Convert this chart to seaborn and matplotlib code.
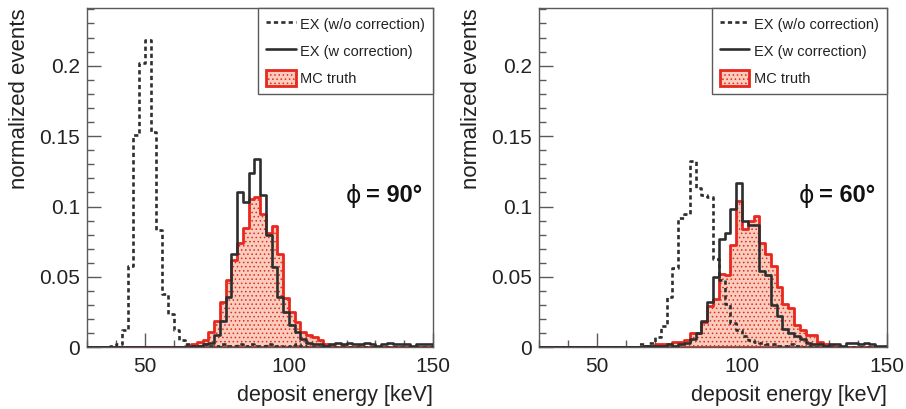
import numpy as np
import pandas as pd
import matplotlib
matplotlib.use("Agg")
import matplotlib.pyplot as plt
from matplotlib.lines import Line2D
from matplotlib.patches import Patch
from matplotlib.ticker import MultipleLocator
import seaborn as sns

# ---------------- data (normalized events per 2 keV bin) ----------------
energy_centers = list(range(31, 153, 2))      # bin centres [keV]
bin_edges = list(range(30, 154, 2))           # bin edges  [keV]

left_ex_raw = [0, 0, 0, 0, 0.001, 0.002, 0.012, 0.058, 0.151, 0.202,
               0.218, 0.153, 0.083, 0.038, 0.024, 0.012, 0.005, 0.002, 0.001, 0.001,
               0.002, 0.001, 0.001, 0.002, 0.001, 0.001, 0.002, 0.001, 0.002, 0.001,
               0.001, 0.002, 0.001, 0.001, 0, 0.001, 0.002, 0.001, 0, 0,
               0, 0, 0, 0, 0, 0, 0, 0, 0, 0,
               0, 0, 0, 0, 0, 0, 0, 0, 0, 0, 0]
left_ex_corr = [0, 0, 0, 0, 0, 0, 0, 0, 0, 0,
                0, 0, 0, 0, 0, 0, 0, 0, 0.001, 0.001,
                0.002, 0.003, 0.009, 0.019, 0.036, 0.066, 0.110, 0.103, 0.124, 0.134,
                0.108, 0.080, 0.057, 0.036, 0.025, 0.016, 0.011, 0.006, 0.003, 0.002,
                0.002, 0.001, 0.002, 0.003, 0.002, 0.003, 0.002, 0.002, 0.003, 0.002,
                0.001, 0.002, 0.003, 0.002, 0.002, 0.002, 0.001, 0.002, 0.002, 0.002, 0]
left_mc = [0, 0, 0, 0, 0, 0, 0, 0, 0, 0,
           0, 0, 0, 0, 0, 0, 0, 0.001, 0.002, 0.004,
           0.005, 0.011, 0.019, 0.032, 0.048, 0.062, 0.074, 0.085, 0.105, 0.107,
           0.095, 0.081, 0.086, 0.066, 0.035, 0.025, 0.018, 0.011, 0.009, 0.007,
           0.005, 0.002, 0.001, 0, 0.001, 0, 0, 0.001, 0, 0,
           0, 0, 0, 0, 0, 0, 0, 0, 0, 0, 0]

right_ex_raw = [0, 0, 0, 0, 0, 0, 0, 0, 0,
                0, 0, 0, 0, 0, 0, 0, 0, 0.002, 0.001,
                0.003, 0.007, 0.015, 0.036, 0.056, 0.092, 0.095, 0.132, 0.113, 0.108,
                0.107, 0.063, 0.048, 0.031, 0.017, 0.012, 0.008, 0.005, 0.004, 0.003,
                0.002, 0.002, 0.001, 0.001, 0.002, 0.001, 0, 0.001, 0, 0,
                0, 0, 0, 0, 0, 0, 0, 0, 0, 0, 0, 0]
right_ex_corr = [0, 0, 0, 0, 0, 0, 0, 0, 0,
                 0, 0, 0, 0, 0, 0, 0, 0, 0, 0.001,
                 0.001, 0.001, 0.001, 0.002, 0.001, 0.002, 0.003, 0.006, 0.010, 0.019,
                 0.032, 0.050, 0.077, 0.081, 0.098, 0.117, 0.090, 0.087, 0.087, 0.054,
                 0.051, 0.030, 0.022, 0.013, 0.010, 0.008, 0.006, 0.003, 0.002, 0.002,
                 0.001, 0.002, 0.002, 0.001, 0.003, 0.003, 0.002, 0.003, 0.002, 0.001, 0.001, 0]
right_mc = [0, 0, 0, 0, 0, 0, 0, 0, 0,
            0, 0, 0, 0, 0, 0, 0, 0, 0, 0.001,
            0.001, 0.002, 0.002, 0.002, 0.004, 0.004, 0.005, 0.010, 0.010, 0.018,
            0.029, 0.034, 0.052, 0.051, 0.073, 0.104, 0.084, 0.090, 0.093, 0.074,
            0.066, 0.058, 0.043, 0.031, 0.028, 0.016, 0.012, 0.009, 0.009, 0.004,
            0.002, 0.001, 0, 0, 0, 0, 0, 0, 0, 0, 0, 0]

series_labels = ["EX (w/o correction)", "EX (w correction)", "MC truth"]
angle_labels = ["90", "60"]
y_ticks = [0, 0.05, 0.1, 0.15, 0.2]
y_tick_labels = ["0", "0.05", "0.1", "0.15", "0.2"]
x_ticks = [50, 100, 150]
x_tick_labels = ["50", "100", "150"]

# ---------------- style ----------------
sns.set_style("white")
FONT = ["Liberation Sans", "DejaVu Sans"]
plt.rcParams["font.family"] = FONT
plt.rcParams["hatch.linewidth"] = 0.6

EX_COLOR = "#2e2e2e"
MC_EDGE = "#e8281e"
MC_FACE = "#f9cdbd"
FRAME = "#5a5a5a"

fig = plt.figure(figsize=(9.06, 4.09), dpi=100)
ax_l = fig.add_axes([87.3 / 906, (409 - 347.3) / 409, 345.6 / 906, 339.3 / 409])
ax_r = fig.add_axes([539.3 / 906, (409 - 347.3) / 409, 347.4 / 906, 339.3 / 409])


def draw_panel(ax, raw, corr, mc, angle):
    df = pd.DataFrame({"energy": energy_centers, "raw": raw, "corr": corr, "mc": mc})
    sns.histplot(data=df, x="energy", weights="mc", bins=bin_edges, element="step",
                 fill=True, facecolor=MC_FACE, edgecolor=MC_EDGE, linewidth=2.0,
                 ax=ax, zorder=1)
    ax.collections[-1].set_hatch("....")
    sns.histplot(data=df, x="energy", weights="raw", bins=bin_edges, element="step",
                 fill=False, color=EX_COLOR, linewidth=1.9, linestyle=(0, (1.6, 1.2)),
                 ax=ax, zorder=2)
    sns.histplot(data=df, x="energy", weights="corr", bins=bin_edges, element="step",
                 fill=False, color=EX_COLOR, linewidth=1.9, ax=ax, zorder=3)

    ax.set_xlim(30, 150)
    ax.set_ylim(0, 0.241)
    ax.set_xlabel("")
    ax.set_ylabel("")
    ax.set_yticks(y_ticks)
    ax.set_yticklabels(y_tick_labels)
    ax.set_xticks(x_ticks)
    ax.set_xticklabels(x_tick_labels)
    ax.xaxis.set_minor_locator(MultipleLocator(10))
    ax.yaxis.set_minor_locator(MultipleLocator(0.01))
    ax.tick_params(which="both", direction="in", colors=FRAME, labelcolor="#222222",
                   labelsize=15, top=False, right=False, left=True, bottom=True)
    ax.tick_params(which="major", length=10, width=1.0)
    ax.tick_params(which="minor", length=5, width=1.0)
    ax.tick_params(axis="y", which="major", pad=5)
    ax.tick_params(axis="x", which="major", pad=7)
    for sp in ax.spines.values():
        sp.set_color(FRAME)
        sp.set_linewidth(1.0)
        sp.set_visible(True)

    ax.text(-0.195, 1.0, "normalized events", rotation=90, ha="center", va="top",
            fontsize=16, color="#222222", transform=ax.transAxes)
    ax.text(1.0, -0.1435, "deposit energy [keV]", ha="right", va="center",
            fontsize=15.5, color="#222222", transform=ax.transAxes)

    ax.text(0.748, 0.446, "\u03d5", ha="left", va="center", fontsize=17,
            family=["DejaVu Sans"], color="#111111", transform=ax.transAxes)
    ax.text(0.805, 0.446, "= " + angle + "\u00b0", ha="left", va="center", fontsize=17,
            fontweight="bold", color="#111111", transform=ax.transAxes)

    handles = [
        Line2D([], [], color=EX_COLOR, linewidth=1.9, linestyle=(0, (1.6, 1.2))),
        Line2D([], [], color=EX_COLOR, linewidth=1.9),
        Patch(facecolor=MC_FACE, edgecolor=MC_EDGE, linewidth=2.0, hatch="...."),
    ]
    leg = ax.legend(handles, series_labels, loc="upper right", bbox_to_anchor=(1.0, 1.0),
                    borderaxespad=0, fancybox=False, framealpha=1, edgecolor=FRAME,
                    fontsize=10.5, handlelength=2.0, handleheight=1.3, handletextpad=0.3,
                    labelspacing=0.75, borderpad=0.55)
    leg.get_frame().set_linewidth(1.0)
    for t in leg.get_texts():
        t.set_color("#222222")


draw_panel(ax_l, left_ex_raw, left_ex_corr, left_mc, angle_labels[0])
draw_panel(ax_r, right_ex_raw, right_ex_corr, right_mc, angle_labels[1])

fig.savefig("out.png", dpi=100)
